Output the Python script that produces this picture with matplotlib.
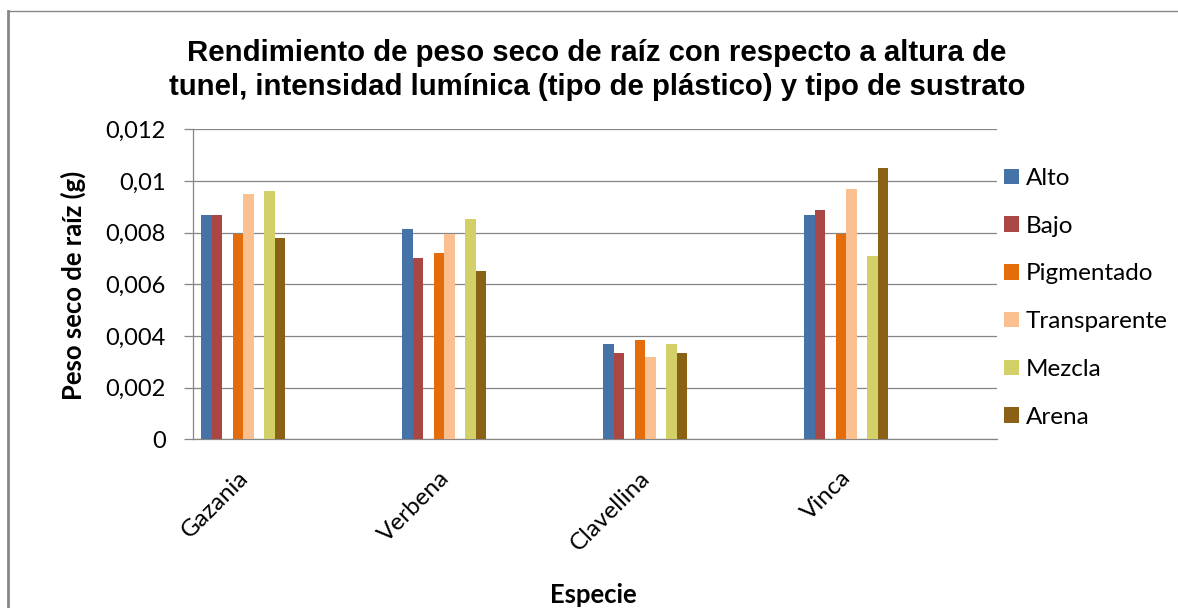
import matplotlib
matplotlib.use('Agg')
import matplotlib.pyplot as plt
from matplotlib import font_manager
from matplotlib.font_manager import FontProperties
from matplotlib.transforms import ScaledTranslation
from matplotlib.lines import Line2D
from matplotlib.patches import Patch
from matplotlib.ticker import FuncFormatter, MultipleLocator
import numpy as np

# ---------------- data ----------------
categories = ['Gazania', 'Verbena', 'Clavellina', 'Vinca']
series_names = ['Alto', 'Bajo', 'Pigmentado', 'Transparente', 'Mezcla', 'Arena']
alto = [0.00868, 0.00814, 0.00369, 0.00868]
bajo = [0.00868, 0.00702, 0.00334, 0.00888]
pigmentado = [0.00795, 0.00721, 0.00385, 0.00795]
transparente = [0.00950, 0.00795, 0.00319, 0.00969]
mezcla = [0.00961, 0.00853, 0.00369, 0.00710]
arena = [0.00779, 0.00652, 0.00334, 0.01050]
series_values = [alto, bajo, pigmentado, transparente, mezcla, arena]
colors = ['#4572A7', '#AA4643', '#E46C0A', '#FAC090', '#D4D068', '#8B6115']
title_lines = ['Rendimiento de peso seco de raíz con respecto a altura de',
               'tunel, intensidad lumínica (tipo de plástico) y tipo de sustrato']
y_label = 'Peso seco de raíz (g)'
x_label = 'Especie'

# ---------------- fonts ----------------
ttf = font_manager.fontManager.ttflist
avail = {f.name for f in ttf}
body_font = 'Lato' if 'Lato' in avail else 'DejaVu Sans'


def pick_title_font():
    def is_bold(f):
        w = f.weight
        if isinstance(w, str):
            return w in ('bold', 'heavy', 'extra bold', 'black', 'semibold', 'demibold')
        return w >= 600
    prefs = ['Liberation Sans Narrow', 'Arial Narrow']
    for p in prefs:
        for f in ttf:
            if f.name == p and is_bold(f):
                return FontProperties(fname=f.fname)
    for f in ttf:
        if f.name.startswith('Liberation Sans') and is_bold(f) and \
                ('narrow' in f.fname.lower() or 'condensed' in str(f.stretch).lower()):
            return FontProperties(fname=f.fname)
    return FontProperties(family='Liberation Sans', weight='bold')


title_fp = pick_title_font()

W, H, DPI = 1178, 608, 100
fig = plt.figure(figsize=(W / DPI, H / DPI), dpi=DPI)
fig.patch.set_facecolor('white')


def fx(px):
    return px / W


def fy(py):
    return 1 - py / H


GRAY = '#868686'
TICK_FS = 17
BODY_FS = 17.5

# plot area
ax_left, ax_right, ax_top, ax_bottom = 192.7, 996.7, 129.3, 439.3
ax = fig.add_axes([fx(ax_left), fy(ax_bottom), (ax_right - ax_left) / W,
                   (ax_bottom - ax_top) / H])
ax.set_facecolor('white')

n_cat = len(categories)
cat_x = np.arange(n_cat)
slot_w = 10.5 / 201.0
first_left = -0.5 + 8.3 / 201.0
slots = [0, 1, 3, 4, 6, 7]
for vals, col, name, s in zip(series_values, colors, series_names, slots):
    ax.bar(cat_x + first_left + s * slot_w, vals, width=slot_w, align='edge',
           color=col, edgecolor='none', label=name, zorder=3)

ax.set_xlim(-0.5, n_cat - 0.5)
ax.set_ylim(0, 0.012)
ax.yaxis.set_major_locator(MultipleLocator(0.002))


def fmt(v, pos):
    if abs(v) < 1e-12:
        return '0'
    return ('%g' % round(v, 6)).replace('.', ',')


ax.yaxis.set_major_formatter(FuncFormatter(fmt))
ax.grid(axis='y', color=GRAY, linewidth=0.9, zorder=0)
ax.set_axisbelow(True)
for side in ['top', 'right']:
    ax.spines[side].set_visible(False)
for side in ['left', 'bottom']:
    ax.spines[side].set_color(GRAY)
    ax.spines[side].set_linewidth(0.9)
ax.tick_params(axis='y', length=6.3, width=0.9, color=GRAY, pad=13,
               labelsize=TICK_FS, labelcolor='black')
for lbl in ax.get_yticklabels():
    lbl.set_fontfamily(body_font)
ax.set_xticks([])

# rotated category labels
off = ScaledTranslation(-56 / DPI, -28 / DPI, fig.dpi_scale_trans)
for c, name in zip(cat_x, categories):
    ax.text(c, 0, name, rotation=45, rotation_mode='anchor', ha='right',
            va='top', fontsize=BODY_FS, family=body_font,
            transform=ax.transData + off, clip_on=False)

# titles
renderer = fig.canvas.get_renderer()
fp1 = title_fp.copy()
fp1.set_size(21)
t1 = fig.text(fx(597), fy(61), title_lines[0], ha='center', va='baseline',
              fontproperties=fp1)
fp2 = title_fp.copy()
fp2.set_size(21)
t2 = fig.text(fx(597), fy(95), title_lines[1], ha='center', va='baseline',
              fontproperties=fp2)
w2 = t2.get_window_extent(renderer).width
scale = 856.0 / w2
t1.set_fontsize(21 * scale)
t2.set_fontsize(21 * scale)

yl = fig.text(fx(73), fy(285), y_label, rotation=90, ha='center', va='center',
              family=body_font, weight='bold', fontsize=15)
hy = yl.get_window_extent(renderer).height
yl.set_fontsize(15 * 230.0 / hy)

fig.text(fx(593), fy(595), x_label, ha='center', va='center',
         family=body_font, weight='bold', fontsize=yl.get_fontsize())

# legend
handles = [Patch(facecolor=c, edgecolor='none') for c in colors]
fig.legend(handles, series_names, loc='upper left',
           bbox_to_anchor=(fx(1004), fy(168)), frameon=False,
           prop={'family': body_font, 'size': BODY_FS}, borderpad=0,
           handlelength=0.6, handleheight=0.6, handletextpad=0.3,
           labelspacing=1.1, borderaxespad=0)

# chart frame
fig.add_artist(Line2D([fx(8), fx(8)], [fy(10.5), fy(620)], color=GRAY,
                      linewidth=2.0, transform=fig.transFigure))
fig.add_artist(Line2D([fx(8), fx(1200)], [fy(10.5), fy(10.5)], color=GRAY,
                      linewidth=1.0, transform=fig.transFigure))

fig.savefig('out.png', dpi=DPI, facecolor='white')
